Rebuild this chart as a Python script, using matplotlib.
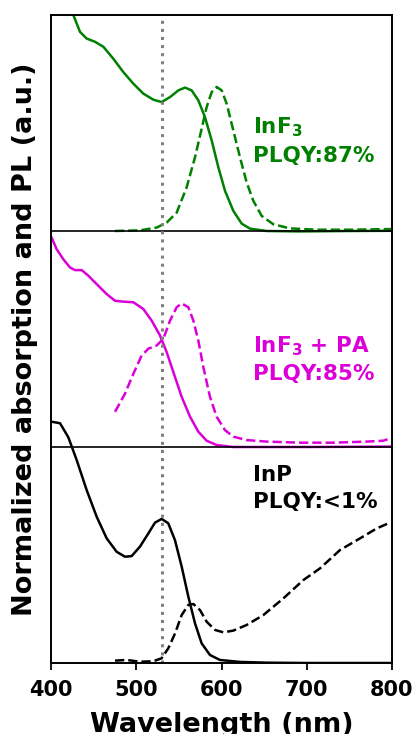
import numpy as np
import matplotlib.pyplot as plt

plt.rcParams['font.family'] = 'DejaVu Sans'
plt.rcParams['font.weight'] = 'bold'
plt.rcParams['mathtext.default'] = 'bf'

# InF3 (top panel)
inf3_abs_x = [400, 413, 426.2, 434, 441.8, 451.6, 461.4, 473, 484.8, 496.6, 508.3, 520, 529.8, 539.6,
              549.4, 557.2, 565, 572.8, 580.6, 588.5, 596.3, 604.1, 613.9, 623.7, 633.4, 653, 692, 750, 800]
inf3_abs_y = [1.25, 1.12, 1.0, 0.922, 0.891, 0.876, 0.853, 0.798, 0.736, 0.682, 0.636, 0.608, 0.597, 0.620,
              0.651, 0.664, 0.651, 0.605, 0.527, 0.419, 0.295, 0.186, 0.093, 0.034, 0.011, 0.0, -0.002, 0.0, 0.001]
inf3_pl_x = [475, 504.4, 524, 535.7, 547.4, 559.1, 568.9, 576.7, 582.6, 588.5, 594.3, 600.2, 606.1,
             613.9, 621.7, 629.5, 637.3, 647.1, 660.8, 680.4, 711.6, 750.7, 799.6]
inf3_pl_y = [0.0, 0.003, 0.016, 0.039, 0.085, 0.202, 0.341, 0.473, 0.574, 0.643, 0.667, 0.651, 0.589,
             0.465, 0.341, 0.225, 0.140, 0.070, 0.031, 0.012, 0.006, 0.006, 0.009]

# InF3 + PA (middle panel)
pa_abs_x = [400.8, 406.6, 414.5, 422.3, 428.2, 436, 443.8, 453.6, 465.3, 475.1, 484.8, 496.6, 508.3,
            518.1, 527.9, 535.7, 543.5, 553.3, 563.1, 572.8, 582.6, 594.3, 613.9, 700, 800]
pa_abs_y = [0.969, 0.916, 0.869, 0.831, 0.819, 0.819, 0.793, 0.754, 0.708, 0.677, 0.673, 0.670, 0.639,
            0.585, 0.516, 0.439, 0.347, 0.232, 0.140, 0.071, 0.029, 0.009, 0.0, 0.0, 0.002]
pa_pl_x = [475.1, 486.8, 496.6, 506.4, 514.2, 524, 531.8, 539.6, 547.4, 553.3, 561.1, 567, 572.8,
           578.7, 586.5, 594.3, 604.1, 613.9, 629.5, 653, 692.1, 731.2, 770.3, 789.8, 797.7]
pa_pl_y = [0.163, 0.247, 0.339, 0.424, 0.455, 0.470, 0.501, 0.585, 0.647, 0.665, 0.647, 0.585, 0.493,
           0.370, 0.232, 0.140, 0.078, 0.048, 0.032, 0.025, 0.020, 0.020, 0.025, 0.029, 0.040]

# InP (bottom panel)
inp_abs_x = [400.8, 410.6, 420.3, 430.1, 441.8, 453.6, 465.3, 477, 486.8, 494.6, 504.4, 514.2, 522,
             529.8, 537.5, 545.4, 553.3, 561.1, 568.9, 576.7, 586.5, 598.2, 621.7, 653, 700, 800]
inp_abs_y = [1.117, 1.110, 1.045, 0.940, 0.801, 0.677, 0.577, 0.515, 0.492, 0.495, 0.539, 0.600, 0.650,
             0.667, 0.647, 0.569, 0.446, 0.307, 0.184, 0.091, 0.037, 0.014, 0.005, 0.0015, 0.0, 0.0]
inp_pl_x = [475.1, 488.8, 504.4, 520, 529.8, 537.6, 545.5, 553.3, 561.1, 567, 574.8, 582.6, 592.4,
            602.2, 613.9, 629.5, 649.1, 672.5, 696, 715.5, 739, 762.5, 782, 797.7]
inp_pl_y = [0.011, 0.014, 0.006, 0.008, 0.022, 0.068, 0.137, 0.222, 0.269, 0.273, 0.245, 0.191, 0.153,
            0.142, 0.150, 0.176, 0.222, 0.299, 0.384, 0.438, 0.523, 0.577, 0.623, 0.650]

GREEN = '#008000'
MAGENTA = '#dc00d8'

fig = plt.figure(figsize=(4.14, 7.34), dpi=100)
ax = fig.add_axes([51 / 414, 71 / 734, 341 / 414, 648 / 734])

lw = 1.8
# offsets: each panel spans one unit
ax.plot(inf3_abs_x, np.array(inf3_abs_y) + 2, color=GREEN, lw=lw)
ax.plot(inf3_pl_x, np.array(inf3_pl_y) + 2, color=GREEN, lw=lw, ls='--')
ax.plot(pa_abs_x, np.array(pa_abs_y) + 1, color=MAGENTA, lw=lw)
ax.plot(pa_pl_x, np.array(pa_pl_y) + 1, color=MAGENTA, lw=lw, ls='--')
ax.plot(inp_abs_x, inp_abs_y, color='black', lw=lw)
ax.plot(inp_pl_x, inp_pl_y, color='black', lw=lw, ls='--')

ax.axhline(1, color='black', lw=1.2)
ax.axhline(2, color='black', lw=1.2)
ax.axvline(530, color='gray', lw=2.2, ls=':')

ax.set_xlim(400, 800)
ax.set_ylim(0, 3)
ax.set_yticks([])
ax.set_xticks([400, 500, 600, 700, 800])
ax.tick_params(axis='x', direction='out', length=5, width=1.3, labelsize=15, pad=7)
for s in ax.spines.values():
    s.set_linewidth(1.4)

ax.set_xlabel('Wavelength (nm)', fontsize=19.5, fontweight='bold', labelpad=9)
ax.set_ylabel('Normalized absorption and PL (a.u.)', fontsize=19.5, fontweight='bold', labelpad=9)

fs = 15.5
ax.text(637, 2.454, 'InF$_3$', color=GREEN, fontsize=fs, fontweight='bold', va='baseline')
ax.text(637, 2.319, 'PLQY:87%', color=GREEN, fontsize=fs, fontweight='bold', va='baseline')
ax.text(637, 1.44, 'InF$_3$ + PA', color=MAGENTA, fontsize=fs, fontweight='bold', va='baseline')
ax.text(637, 1.31, 'PLQY:85%', color=MAGENTA, fontsize=fs, fontweight='bold', va='baseline')
ax.text(637, 0.843, 'InP', color='black', fontsize=fs, fontweight='bold', va='baseline')
ax.text(637, 0.718, 'PLQY:<1%', color='black', fontsize=fs, fontweight='bold', va='baseline')

fig.savefig('out.png', dpi=100)
